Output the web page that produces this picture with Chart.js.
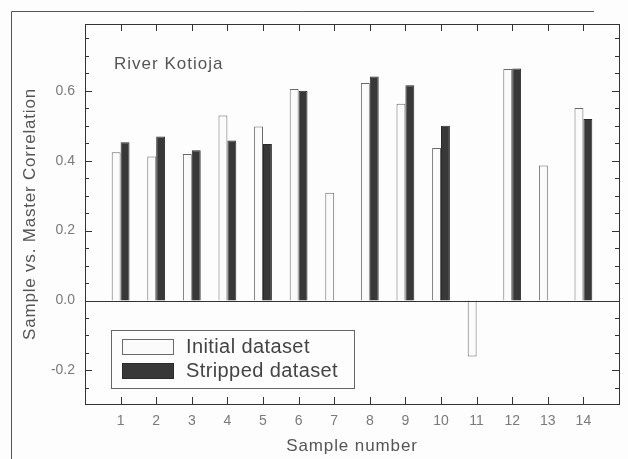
<!DOCTYPE html>
<html><head><meta charset="utf-8">
<script src="https://cdn.jsdelivr.net/npm/chart.js@4.4.0/dist/chart.umd.min.js"></script>
<style>html,body{margin:0;padding:0;background:#fdfdfd;}#wrap{width:628px;height:459px;}</style>
</head><body><div id="wrap"><canvas id="c" width="628" height="459"></canvas></div>
<script>
// ---- data ----
const samples = ['1','2','3','4','5','6','7','8','9','10','11','12','13','14'];
const initialData  = [0.424, 0.412, 0.419, 0.529, 0.498, 0.605, 0.308, 0.622, 0.563, 0.436, -0.160, 0.662, 0.386, 0.551];
const strippedData = [0.453, 0.469, 0.430, 0.458, 0.448, 0.600, null, 0.641, 0.616, 0.500, null, 0.664, null, 0.519];
const yTickLabels = [-0.2, 0.0, 0.2, 0.4, 0.6];
const yMinorTicks = [-0.25, -0.2, -0.15, -0.1, -0.05, 0, 0.05, 0.1, 0.15, 0.2, 0.25, 0.3, 0.35, 0.4, 0.45, 0.5, 0.55, 0.6, 0.65, 0.7, 0.75];
const seriesNames = ['Initial dataset', 'Stripped dataset'];
const annotationText = 'River Kotioja';
const xTitle = 'Sample number';
const yTitle = 'Sample vs. Master Correlation';

const FONT = "'Liberation Sans', Arial, Helvetica, sans-serif";
const labels = [''].concat(samples, ['']);

function spacedTitle(s, spacing) {
  if (s._spacedWrapped) return;
  const orig = s.drawTitle;
  s.drawTitle = function () {
    this.ctx.save();
    this.ctx.letterSpacing = spacing;
    orig.call(this);
    this.ctx.restore();
  };
  s._spacedWrapped = true;
}

const decor = {
  id: 'decor',
  afterDraw(chart) {
    const ctx = chart.ctx;
    const {left, right, top, bottom} = chart.chartArea;
    const xs = chart.scales.x, ys = chart.scales.y;
    ctx.save();
    ctx.lineWidth = 1;
    ctx.strokeStyle = '#333';
    // zero line
    const y0 = Math.round(ys.getPixelForValue(0)) + 0.5;
    ctx.beginPath(); ctx.moveTo(left, y0); ctx.lineTo(right, y0); ctx.stroke();
    // plot border
    ctx.strokeRect(Math.round(left) + 0.5, Math.round(top) + 0.5, Math.round(right - left), Math.round(bottom - top));
    // y ticks (inward, both sides)
    yMinorTicks.forEach(v => {
      const py = Math.round(ys.getPixelForValue(v)) + 0.5;
      const major = yTickLabels.some(t => Math.abs(t - v) < 1e-6);
      const len = major ? 7 : 4;
      ctx.beginPath();
      ctx.moveTo(left, py); ctx.lineTo(left + len, py);
      ctx.moveTo(right, py); ctx.lineTo(right - len, py);
      ctx.stroke();
    });
    // x ticks (inward, top & bottom)
    for (let i = 1; i <= samples.length; i++) {
      const px = Math.round(xs.getPixelForValue(i)) + 0.5;
      ctx.beginPath();
      ctx.moveTo(px, bottom); ctx.lineTo(px, bottom - 7);
      ctx.moveTo(px, top); ctx.lineTo(px, top + 7);
      ctx.stroke();
    }
    // outer frame (left + top)
    ctx.strokeStyle = '#555';
    ctx.beginPath();
    ctx.moveTo(11.5, chart.height); ctx.lineTo(11.5, 11.5); ctx.lineTo(594, 11.5);
    ctx.stroke();
    // annotation
    ctx.fillStyle = '#555';
    ctx.font = '17px ' + FONT;
    ctx.letterSpacing = '1px';
    ctx.textBaseline = 'middle';
    ctx.textAlign = 'left';
    ctx.fillText(annotationText, left + 29, top + 40);
    // legend
    const lx = left + 26, ly = top + 306, lw = 243, lh = 58;
    ctx.fillStyle = '#fdfdfd';
    ctx.fillRect(lx, ly, lw, lh);
    ctx.strokeStyle = '#666';
    ctx.strokeRect(lx + 0.5, ly + 0.5, lw, lh);
    ctx.letterSpacing = '0.4px';
    chart.data.datasets.forEach((ds, i) => {
      const sy = ly + 9 + i * 24;
      ctx.fillStyle = ds.backgroundColor;
      ctx.fillRect(lx + 11, sy, 51, 15);
      ctx.strokeStyle = ds.borderColor;
      ctx.strokeRect(lx + 11.5, sy + 0.5, 51, 15);
      ctx.fillStyle = '#444';
      ctx.font = '20px ' + FONT;
      ctx.textBaseline = 'middle';
      ctx.fillText(ds.label, lx + 75, sy + 8);
    });
    ctx.restore();
  }
};

new Chart(document.getElementById('c'), {
  type: 'bar',
  data: {
    labels: labels,
    datasets: [
      { label: seriesNames[0], data: [null].concat(initialData, [null]),
        backgroundColor: '#fbfbfb', borderColor: '#6a6a6a', borderWidth: 1 },
      { label: seriesNames[1], data: [null].concat(strippedData, [null]),
        backgroundColor: '#383838', borderColor: '#2a2a2a', borderWidth: 1 }
    ]
  },
  options: {
    responsive: false,
    devicePixelRatio: 1,
    animation: false,
    layout: { padding: { left: 0, top: 24, right: 6, bottom: 0 } },
    datasets: { bar: { categoryPercentage: 0.5, barPercentage: 1.0 } },
    plugins: { legend: { display: false }, tooltip: { enabled: false } },
    scales: {
      x: {
        type: 'category',
        offset: false,
        grid: { display: false, drawTicks: false, offset: false },
        border: { display: false },
        ticks: { autoSkip: false, maxRotation: 0, padding: 9, color: '#7a7a7a',
                 font: { family: FONT, size: 14 } },
        title: { display: true, text: xTitle, color: '#555', padding: { top: 0, bottom: 2 },
                 font: { family: FONT, size: 17 } },
        afterFit(s) { s.height = 55; spacedTitle(s, '0.9px'); }
      },
      y: {
        min: -0.296, max: 0.791,
        grid: { display: false, drawTicks: false },
        border: { display: false },
        afterBuildTicks(s) { s.ticks = yTickLabels.map(v => ({ value: v })); },
        ticks: { padding: 10, color: '#7a7a7a', font: { family: FONT, size: 14 },
                 callback: v => Number(v).toFixed(1) },
        title: { display: true, text: yTitle, color: '#555', padding: { top: 20, bottom: 0 },
                 font: { family: FONT, size: 17 } },
        afterFit(s) { s.width = 85; spacedTitle(s, '0.8px'); }
      }
    }
  },
  plugins: [decor]
});
</script>
</body></html>
